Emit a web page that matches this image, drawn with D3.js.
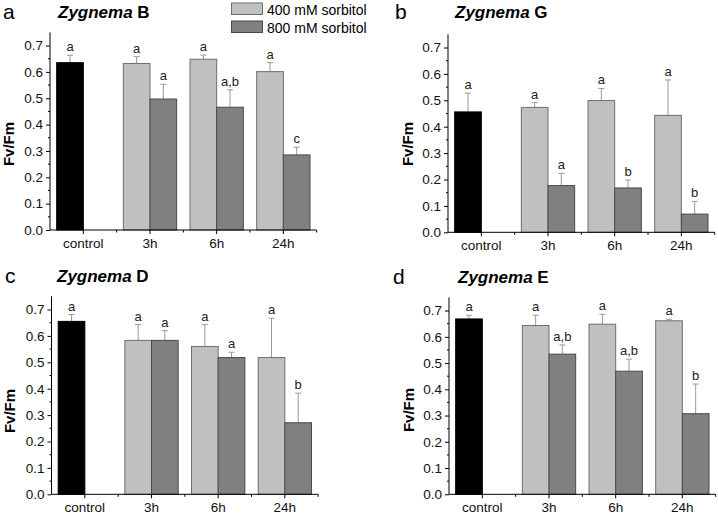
<!DOCTYPE html>
<html><head><meta charset="utf-8">
<script src="https://cdn.jsdelivr.net/npm/d3@7"></script>
<style>
body{margin:0;background:#fff;}
svg{display:block;font-family:"Liberation Sans",Arial,sans-serif;}
</style></head>
<body>
<script>
// ---------- data ----------
const categories = ["control", "3h", "6h", "24h"];
const series = ["400 mM sorbitol", "800 mM sorbitol"];
const panelLetters = ["a", "b", "c", "d"];
const strains = ["B", "G", "D", "E"];
const yTicks = [0, 0.1, 0.2, 0.3, 0.4, 0.5, 0.6, 0.7];

const controlMean = [0.635, 0.456, 0.655, 0.668];
const controlErr  = [0.028, 0.071, 0.026, 0.014];
const controlSig  = ["a", "a", "a", "a"];

// per panel: values for 3h, 6h, 24h
const mean400 = [[0.632, 0.648, 0.601], [0.473, 0.499, 0.443], [0.583, 0.560, 0.518], [0.643, 0.648, 0.661]];
const err400  = [[0.026, 0.016, 0.034], [0.018, 0.046, 0.134], [0.060, 0.083, 0.149], [0.039, 0.038, 0.006]];
const sig400  = [["a", "a", "a"], ["a", "a", "a"], ["a", "a", "a"], ["a", "a", "a"]];
const mean800 = [[0.497, 0.466, 0.285], [0.177, 0.168, 0.069], [0.583, 0.518, 0.271], [0.534, 0.469, 0.307]];
const err800  = [[0.056, 0.066, 0.029], [0.046, 0.030, 0.048], [0.037, 0.020, 0.112], [0.035, 0.046, 0.113]];
const sig800  = [["a", "a,b", "c"], ["a", "b", "b"], ["a", "a", "b"], ["a,b", "a,b", "b"]];

// ---------- layout ----------
const W = 718, H = 515;
const layout = [
  {axisX: 50,  bandX: 50,  y0: 230,   k: 263.5, letterX: 3,   titleX: 58,  titleY: 18, yLabX: 14,  yLabY: 144},
  {axisX: 448, bandX: 448, y0: 232.3, k: 264,   letterX: 395, titleX: 455, titleY: 18, yLabX: 413, yLabY: 144},
  {axisX: 51.5,bandX: 51.5,y0: 494.3, k: 264,   letterX: 5,   titleX: 57,  titleY: 282, yLabX: 15, yLabY: 411},
  {axisX: 449, bandX: 449, y0: 494.3, k: 262.5, letterX: 393, titleX: 458, titleY: 283, yLabX: 414, yLabY: 410}
];
const groupW = 66.67;
const colors = {ctrl: "#000000", s400: "#c0c0c0", s800: "#808080"};
const strokes = {ctrl: "#000000", s400: "#6e6e6e", s800: "#4a4a4a"};

const svg = d3.select("body").append("svg").attr("width", W).attr("height", H);

panelLetters.forEach((L, i) => {
  const lay = layout[i];
  const g = svg.append("g");
  const x = d3.scaleBand().domain(categories).range([lay.bandX, lay.bandX + groupW * categories.length]).padding(0);
  const xi = d3.scaleBand().domain(series).range([0, x.bandwidth()]).paddingInner(0).paddingOuter(0.25);
  const y = d3.scaleLinear().domain([0, 0.75]).range([lay.y0, lay.y0 - 0.75 * lay.k]);

  const recs = [];
  recs.push({cat: "control", s: series[0], v: controlMean[i], e: controlErr[i], sig: controlSig[i], type: "ctrl"});
  categories.slice(1).forEach((c, j) => {
    recs.push({cat: c, s: series[0], v: mean400[i][j], e: err400[i][j], sig: sig400[i][j], type: "s400"});
    recs.push({cat: c, s: series[1], v: mean800[i][j], e: err800[i][j], sig: sig800[i][j], type: "s800"});
  });

  // error bars
  const eb = g.append("g").attr("stroke", "#9a9a9a").attr("stroke-width", 1);
  recs.forEach(r => {
    const cx = x(r.cat) + xi(r.s) + xi.bandwidth() / 2;
    eb.append("line").attr("x1", cx).attr("x2", cx).attr("y1", y(r.v)).attr("y2", y(r.v + r.e));
    eb.append("line").attr("x1", cx - 3).attr("x2", cx + 3).attr("y1", y(r.v + r.e)).attr("y2", y(r.v + r.e));
  });

  g.append("g").selectAll("rect").data(recs).join("rect")
    .attr("x", r => x(r.cat) + xi(r.s))
    .attr("y", r => y(r.v))
    .attr("width", xi.bandwidth())
    .attr("height", r => y(0) - y(r.v))
    .attr("fill", r => colors[r.type])
    .attr("stroke", r => strokes[r.type])
    .attr("stroke-width", 1);

  // significance letters
  g.append("g").selectAll("text").data(recs).join("text")
    .attr("x", r => x(r.cat) + xi(r.s) + xi.bandwidth() / 2)
    .attr("y", r => y(r.v + r.e) - 4)
    .attr("text-anchor", "middle")
    .attr("font-size", 13)
    .attr("fill", "#222")
    .text(r => r.sig);

  // y axis
  const yAxis = d3.axisLeft(y).tickValues(yTicks).tickFormat(d3.format(".1f")).tickSize(4).tickPadding(3);
  const ya = g.append("g").attr("transform", `translate(${lay.axisX},0)`).call(yAxis);
  ya.select(".domain").attr("d", `M0,${y(0.75)}V${y(0)}`);
  ya.selectAll("text").attr("font-size", 13.5).attr("font-family", "Liberation Sans, Arial, sans-serif").attr("fill", "#111");
  const minorY = d3.range(0.05, 0.75, 0.1);
  ya.selectAll(".minor").data(minorY).join("line").attr("class", "minor")
    .attr("x1", 0).attr("x2", -2).attr("y1", d => y(d)).attr("y2", d => y(d)).attr("stroke", "currentColor");

  // x axis
  const xAxis = d3.axisBottom(x).tickSize(4).tickPadding(4);
  const xa = g.append("g").attr("transform", `translate(0,${lay.y0})`).call(xAxis);
  xa.select(".domain").attr("d", `M${lay.axisX},0H${x.range()[1]}`);
  xa.selectAll("text").attr("font-size", 13.5).attr("font-family", "Liberation Sans, Arial, sans-serif").attr("fill", "#111");
  const bounds = categories.slice(1).map(c => x(c)).concat([x.range()[1]]);
  xa.selectAll(".minor").data(bounds).join("line").attr("class", "minor")
    .attr("x1", d => d).attr("x2", d => d).attr("y1", 0).attr("y2", 2.5).attr("stroke", "currentColor");

  // y label
  g.append("text")
    .attr("transform", `translate(${lay.yLabX},${lay.yLabY}) rotate(-90)`)
    .attr("text-anchor", "middle").attr("font-size", 15).attr("font-weight", "bold").text("Fv/Fm");

  // panel letter
  g.append("text").attr("x", lay.letterX).attr("y", lay.titleY + 1).attr("font-size", 21).text(L);
  // title
  const t = g.append("text").attr("x", lay.titleX).attr("y", lay.titleY).attr("font-size", 17).attr("font-weight", "bold");
  t.append("tspan").attr("font-style", "italic").text("Zygnema");
  t.append("tspan").text(" " + strains[i]);
});

// legend
const leg = svg.append("g");
series.forEach((s, j) => {
  leg.append("rect").attr("x", 231.5).attr("y", 3 + j * 18).attr("width", 31).attr("height", 11.5)
    .attr("fill", j === 0 ? colors.s400 : colors.s800).attr("stroke", j === 0 ? strokes.s400 : strokes.s800);
  leg.append("text").attr("x", 267).attr("y", 14.5 + j * 18).attr("font-size", 14).text(s);
});
</script>
</body></html>
